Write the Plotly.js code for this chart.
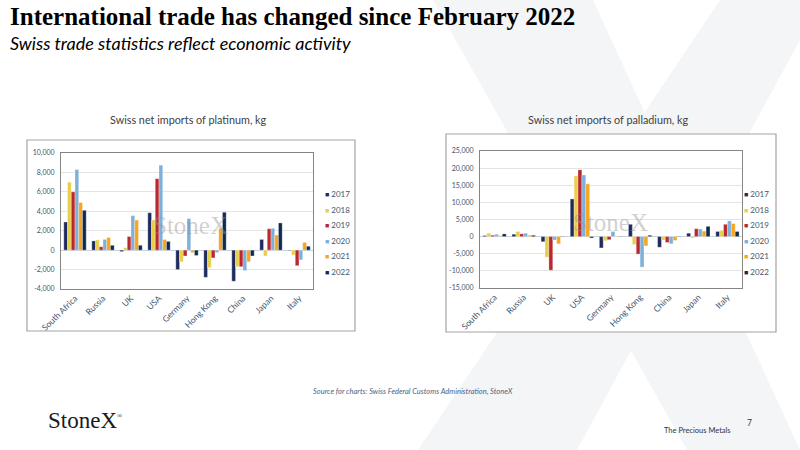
<!DOCTYPE html>
<html>
<head>
<meta charset="utf-8">
<script src="https://cdn.plot.ly/plotly-3.0.1.min.js"></script>
<style>
  html, body { margin: 0; padding: 0; background: #fff; }
  #slide { width: 800px; height: 450px; }
</style>
</head>
<body>
<div id="slide"></div>
<script>
// categories and series (kg)
var pays = ['South Africa', 'Russia', 'UK', 'USA', 'Germany', 'Hong Kong', 'China', 'Japan', 'Italy'];
var annees = ['2017', '2018', '2019', '2020', '2021', '2022'];
var couleurs = ['#1f2b5e', '#e8cf4a', '#b8282e', '#7eb0dc', '#f7a51e', '#0e2a4d'];

// platinum, one array per year, in the order of pays
var plat2017 = [2900, 950, -150, 3850, -2000, -2800, -3200, 1100, -50];
var plat2018 = [7000, 1050, 250, 3100, -1200, -1800, -1700, -600, -500];
var plat2019 = [6000, 350, 1400, 7350, -600, -800, -1700, 2200, -1600];
var plat2020 = [8300, 1100, 3550, 8750, 3250, -250, -2100, 2250, -1000];
var plat2021 = [4900, 1300, 3100, 1100, -250, 2250, -1200, 1550, 800];
var plat2022 = [4100, 500, 500, 900, -550, 3900, -600, 2800, 400];

// palladium
var pall2017 = [300, 700, -1500, 11000, -3300, 3600, -3100, 1000, 1500];
var pall2018 = [1000, 1500, -6000, 17700, -1200, -2300, -1000, -400, 1800];
var pall2019 = [400, 800, -9800, 19500, -900, -5100, -1700, 2300, 3600];
var pall2020 = [700, 1000, -1000, 18000, 1500, -8900, -2100, 2200, 4600];
var pall2021 = [300, 400, -2100, 15400, -100, -2700, -1100, 1600, 3800];
var pall2022 = [800, 400, -100, -400, -100, 400, -100, 3000, 1500];

var platTicks = [-4000, -2000, 0, 2000, 4000, 6000, 8000, 10000];
var pallTicks = [-15000, -10000, -5000, 0, 5000, 10000, 15000, 20000, 25000];

var platine = [plat2017, plat2018, plat2019, plat2020, plat2021, plat2022];
var palladium = [pall2017, pall2018, pall2019, pall2020, pall2021, pall2022];

// pixel -> paper
function px(x) { return x / 800; }
function py(y) { return 1 - y / 450; }

var corTexto = '#44546a';
var fonteTick = 'Lato, "Open Sans", sans-serif';

var data = [];
for (var i = 0; i < annees.length; i++) {
  data.push({
    type: 'bar', x: pays, y: platine[i], name: annees[i],
    xaxis: 'x', yaxis: 'y', showlegend: false,
    marker: { color: couleurs[i], line: { color: 'rgba(255,255,255,0.6)', width: 0.5 } },
    hoverinfo: 'x+y+name'
  });
}
for (var i = 0; i < annees.length; i++) {
  data.push({
    type: 'bar', x: pays, y: palladium[i], name: annees[i],
    xaxis: 'x2', yaxis: 'y2', showlegend: false,
    marker: { color: couleurs[i], line: { color: 'rgba(255,255,255,0.6)', width: 0.5 } },
    hoverinfo: 'x+y+name'
  });
}

function eixoY(ticks, dominio) {
  return {
    domain: dominio,
    range: [ticks[0], ticks[ticks.length - 1]],
    tickvals: ticks,
    ticktext: ticks.map(function (t) { return t.toLocaleString('en-US'); }),
    tickfont: { family: fonteTick, size: 7, color: corTexto },
    ticklabelstandoff: 4,
    gridcolor: '#e4e4e4', gridwidth: 1,
    zeroline: true, zerolinecolor: '#c8d2e0', zerolinewidth: 1,
    showline: true, mirror: true, linecolor: '#858585', linewidth: 1,
    ticks: '', ticklen: 0, fixedrange: true
  };
}
function eixoX(dominio, ancora) {
  return {
    domain: dominio, anchor: ancora,
    tickangle: -45,
    tickfont: { family: fonteTick, size: 8.5, color: corTexto },
    showline: true, mirror: true, linecolor: '#858585', linewidth: 1,
    showgrid: false, ticks: '', fixedrange: true
  };
}

// watermark X and chart frames
var shapes = [
  { type: 'path', xref: 'paper', yref: 'paper', layer: 'below', line: { width: 0 }, fillcolor: '#f4f5f7',
    path: 'M' + px(433) + ',' + py(0) + ' L' + px(593) + ',' + py(0) + ' L' + px(800) + ',' + py(450) + ' L' + px(687) + ',' + py(450) + ' Z' },
  { type: 'path', xref: 'paper', yref: 'paper', layer: 'below', line: { width: 0 }, fillcolor: '#f4f5f7',
    path: 'M' + px(720) + ',' + py(0) + ' L' + px(800) + ',' + py(0) + ' L' + px(800) + ',' + py(40) + ' L' + px(577) + ',' + py(450) + ' L' + px(418) + ',' + py(450) + ' Z' },
  { type: 'rect', xref: 'paper', yref: 'paper', layer: 'below', fillcolor: '#ffffff',
    line: { color: '#a3a3a3', width: 1.2 }, x0: px(27), x1: px(355), y0: py(331), y1: py(140) },
  { type: 'rect', xref: 'paper', yref: 'paper', layer: 'below', fillcolor: '#ffffff',
    line: { color: '#a3a3a3', width: 1.2 }, x0: px(446), x1: px(776), y0: py(332), y1: py(134) }
];

var anotacoes = [
  { text: '<b>International trade has changed since February 2022</b>', x: px(8), y: py(1), xanchor: 'left', yanchor: 'top',
    font: { family: '"Liberation Serif", serif', size: 25, color: '#000' } },
  { text: '<i>Swiss trade statistics reflect economic activity</i>', x: px(8), y: py(30), xanchor: 'left', yanchor: 'top',
    font: { family: 'Lato, sans-serif', size: 18, color: '#000' } },
  { text: 'Swiss net imports of platinum, kg', x: px(188), y: py(119), xanchor: 'center', yanchor: 'middle',
    font: { family: 'Lato, sans-serif', size: 10.8, color: '#404040' } },
  { text: 'Swiss net imports of palladium, kg', x: px(608), y: py(119), xanchor: 'center', yanchor: 'middle',
    font: { family: 'Lato, sans-serif', size: 10.8, color: '#404040' } },
  { text: 'StoneX', x: px(190), y: py(225), xanchor: 'center', yanchor: 'middle',
    font: { family: '"Liberation Serif", serif', size: 25, color: 'rgba(150,150,150,0.45)' } },
  { text: 'StoneX', x: px(610), y: py(222), xanchor: 'center', yanchor: 'middle',
    font: { family: '"Liberation Serif", serif', size: 25, color: 'rgba(150,150,150,0.45)' } },
  { text: '<i>Source for charts: Swiss Federal Customs Administration, StoneX</i>', x: px(413), y: py(391), xanchor: 'center', yanchor: 'middle',
    font: { family: 'Lato, sans-serif', size: 7.5, color: '#4f5f80' } },
  { text: 'StoneX<sup><span style="font-size:7px">®</span></sup>', x: px(46), y: py(420), xanchor: 'left', yanchor: 'middle',
    font: { family: '"Liberation Serif", serif', size: 23, color: '#1a1a24' } },
  { text: 'The Precious Metals', x: px(733), y: py(430), xanchor: 'right', yanchor: 'middle',
    font: { family: 'Lato, sans-serif', size: 7.5, color: '#333' } },
  { text: '7', x: px(749), y: py(423), xanchor: 'center', yanchor: 'middle',
    font: { family: 'Lato, sans-serif', size: 8.5, color: '#333' } }
];

// legends drawn as text, one column per chart
var legX = [323, 742];
for (var c = 0; c < legX.length; c++) {
  for (var i = 0; i < annees.length; i++) {
    anotacoes.push({
      text: '<span style="color:' + couleurs[i] + ';font-size:7px">■</span> ' + annees[i],
      x: px(legX[c]), y: py(194 + i * 15.6), xanchor: 'left', yanchor: 'middle',
      font: { family: fonteTick, size: 8, color: corTexto }
    });
  }
}
anotacoes.forEach(function (a) { a.xref = 'paper'; a.yref = 'paper'; a.showarrow = false; });

var layout = {
  width: 800, height: 450,
  margin: { l: 0, r: 0, t: 0, b: 0 },
  paper_bgcolor: '#ffffff', plot_bgcolor: '#ffffff',
  barmode: 'group', bargap: 0.2, bargroupgap: 0,
  showlegend: false,
  xaxis: eixoX([px(61), px(313)], 'y'),
  yaxis: eixoY(platTicks, [py(289), py(153)]),
  xaxis2: eixoX([px(480), px(742)], 'y2'),
  yaxis2: eixoY(pallTicks, [py(288), py(151)]),
  shapes: shapes,
  annotations: anotacoes
};
layout.yaxis2.anchor = 'x2';

Plotly.newPlot('slide', data, layout, { displayModeBar: false, staticPlot: true });
</script>
</body>
</html>
